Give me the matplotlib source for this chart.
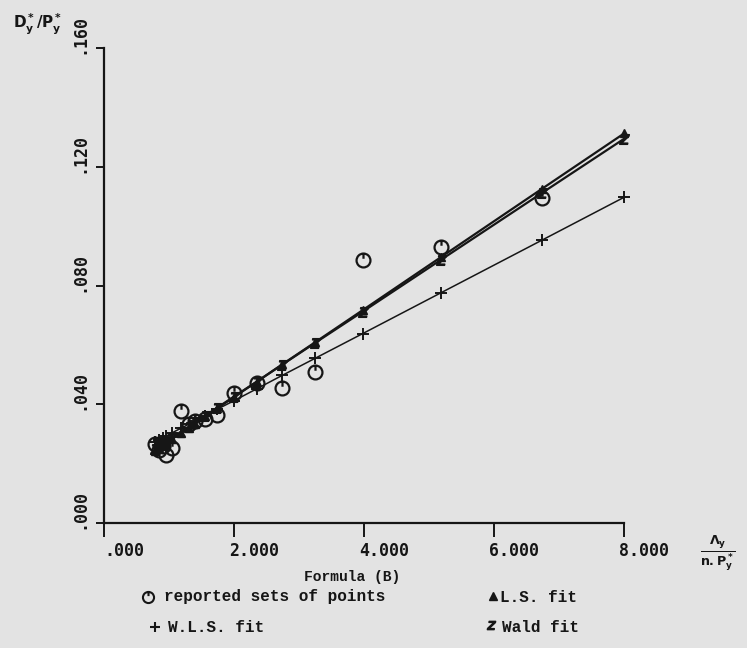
import matplotlib.pyplot as plt
from matplotlib.lines import Line2D
from matplotlib.path import Path
from matplotlib.transforms import ScaledTranslation

# values
x_vals = [0.78, 0.84, 0.90, 0.95, 1.05, 1.18, 1.30, 1.40, 1.56, 1.74,
          2.00, 2.35, 2.74, 3.25, 3.98, 5.18, 6.74, 8.00]
ls_fit = [0.0243, 0.0252, 0.0261, 0.0269, 0.0283, 0.0303, 0.0320, 0.0335, 0.0359, 0.0386,
          0.0424, 0.0476, 0.0534, 0.0609, 0.0717, 0.0895, 0.1126, 0.1312]
wald_fit = [0.0249, 0.0258, 0.0266, 0.0274, 0.0288, 0.0307, 0.0324, 0.0339, 0.0362, 0.0388,
            0.0426, 0.0476, 0.0533, 0.0607, 0.0712, 0.0886, 0.1112, 0.1294]
wls_fit = [0.0273, 0.0280, 0.0287, 0.0292, 0.0304, 0.0319, 0.0332, 0.0344, 0.0362, 0.0383,
           0.0412, 0.0452, 0.0497, 0.0555, 0.0638, 0.0775, 0.0953, 0.1097]

# reported sets of points (no visible circle at the last x)
rep_x = [0.78, 0.84, 0.90, 0.95, 1.05, 1.18, 1.30, 1.40, 1.56, 1.74,
         2.00, 2.35, 2.74, 3.25, 3.98, 5.18, 6.74]
reported = [0.0265, 0.0245, 0.0258, 0.0230, 0.0252, 0.0378, 0.0335, 0.0345, 0.0350, 0.0365,
            0.0437, 0.0470, 0.0454, 0.0508, 0.0885, 0.0929, 0.1094]

x_ticks = [0, 2, 4, 6, 8]
x_tick_labels = ['.000', '2.000', '4.000', '6.000', '8.000']
y_ticks = [0, 0.04, 0.08, 0.12, 0.16]
y_tick_labels = ['.000', '.040', '.080', '.120', '.160']

ink = '#161616'
paper = '#e3e3e3'
mono = 'DejaVu Sans Mono'
typew = 'Liberation Mono'
W, H = 747, 648


def fx(px):
    return px / W


def fy(py):
    return 1 - py / H


# circle with the little stroke from the top, like the plotter glyph
circ = Path.make_compound_path(Path.unit_circle(), Path([(0, 1), (0, 0.25)]))

fig = plt.figure(figsize=(W / 100, H / 100), dpi=100, facecolor=paper)
ax = fig.add_axes([fx(104), fy(523), fx(624) - fx(104), fy(48) - fy(523)])
ax.set_facecolor(paper)
ax.set_xlim(0, 8)
ax.set_ylim(0, 0.16)

# fitted lines
ax.plot(x_vals, wls_fit, color=ink, lw=1.1, marker='+', ms=9, mew=1.4, clip_on=False)
ax.plot(x_vals, ls_fit, color=ink, lw=1.6, marker='^', ms=6, clip_on=False)
ax.plot(x_vals, wald_fit, color=ink, lw=1.6, marker='$z$', ms=7, clip_on=False)
# reported points
ax.plot(rep_x, reported, ls='none', marker=circ, ms=10, mfc='none', mec=ink, mew=1.6, clip_on=False)

for side in ['top', 'right']:
    ax.spines[side].set_visible(False)
for side in ['left', 'bottom']:
    ax.spines[side].set_color(ink)
    ax.spines[side].set_linewidth(1.6)

ax.set_xticks(x_ticks)
ax.set_xticklabels(x_tick_labels, fontfamily=mono, fontweight='bold', fontsize=12)
ax.set_yticks(y_ticks)
ax.set_yticklabels(y_tick_labels, fontfamily=mono, fontweight='bold', fontsize=12,
                   rotation=90, va='center')
ax.tick_params(axis='x', direction='out', length=10, width=1.4, color=ink, pad=4, labelcolor=ink)
ax.tick_params(axis='y', direction='out', length=6, width=1.4, color=ink, pad=5, labelcolor=ink)

for lab in ax.get_xticklabels():
    lab.set_transform(lab.get_transform() + ScaledTranslation(0.2, 0, fig.dpi_scale_trans))
for lab in ax.get_yticklabels():
    lab.set_transform(lab.get_transform() + ScaledTranslation(0, 0.14, fig.dpi_scale_trans))

# axis titles
fig.text(fx(352), fy(577), 'Formula (B)', fontfamily=typew, fontweight='bold',
         fontsize=10.5, ha='center', va='center', color=ink)
fig.text(fx(718), fy(553), r'$\mathbf{\frac{\Lambda_y}{n.P^*_y}}$', fontsize=13,
         ha='center', va='center', color=ink)
fig.text(fx(38), fy(24), r'$\mathbf{D^*_y/P^*_y}$', fontsize=11,
         ha='center', va='center', color=ink)

# legend, written under the axis like the original
fig.add_artist(Line2D([fx(148)], [fy(597)], marker=circ, ms=8, mfc='none', mec=ink, mew=1.5))
fig.text(fx(164), fy(597), 'reported sets of points', fontfamily=typew, fontweight='bold',
         fontsize=11.5, va='center', color=ink)
fig.add_artist(Line2D([fx(155)], [fy(627)], marker='+', ms=7, mec=ink, mew=1.5))
fig.text(fx(168), fy(627), 'W.L.S. fit', fontfamily=typew, fontweight='bold',
         fontsize=11.5, va='center', color=ink)
fig.add_artist(Line2D([fx(493)], [fy(596)], marker='^', ms=6, color=ink))
fig.text(fx(500), fy(597), 'L.S. fit', fontfamily=typew, fontweight='bold',
         fontsize=11.5, va='center', color=ink)
fig.add_artist(Line2D([fx(491)], [fy(625)], marker='$z$', ms=6, color=ink))
fig.text(fx(502), fy(627), 'Wald fit', fontfamily=typew, fontweight='bold',
         fontsize=11.5, va='center', color=ink)

fig.savefig('out.png', dpi=100, facecolor=paper)
